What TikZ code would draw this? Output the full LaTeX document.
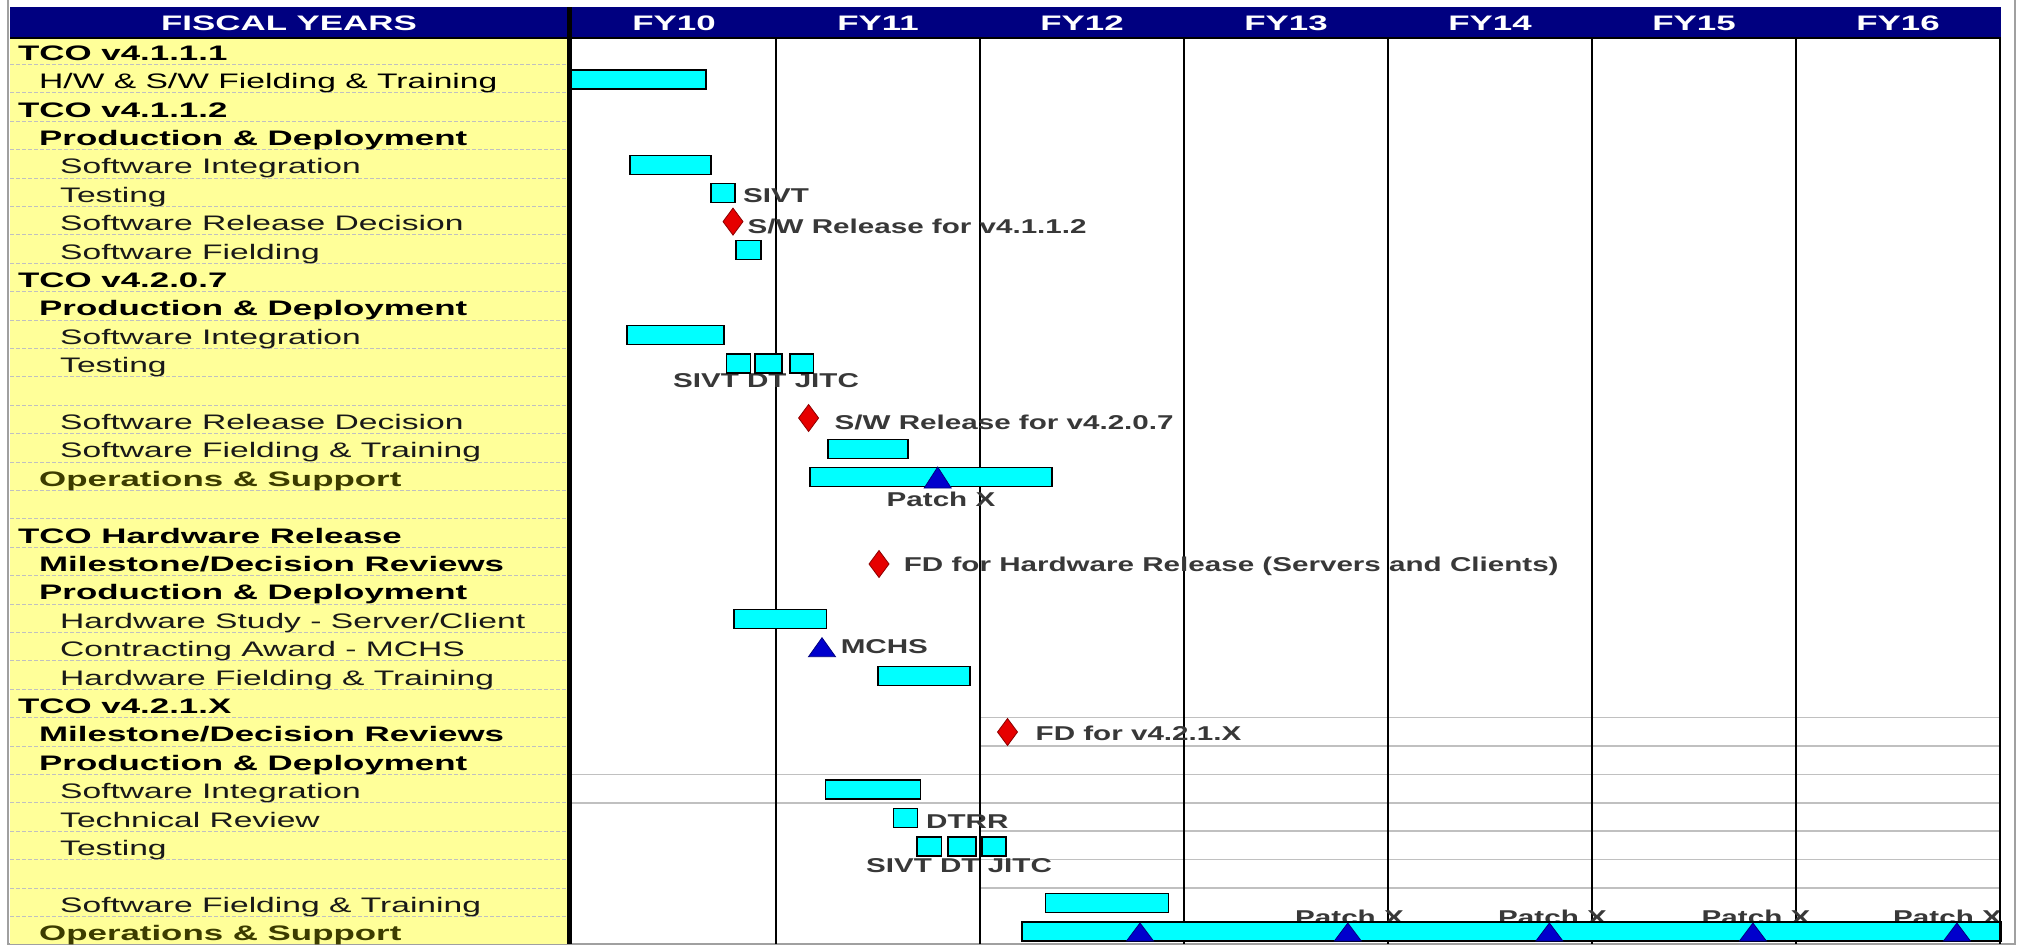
\documentclass[tikz,border=0pt]{standalone}
\usepackage{fontspec}
\setmainfont{Liberation Sans}[FakeStretch=1.6, BoldFeatures={FakeStretch=1.66}]
\newfontfamily\chartfont{Liberation Sans}[FakeStretch=1.48]
\definecolor{hdrnavy}{RGB}{0,0,128}
\definecolor{colyellow}{RGB}{255,255,153}
\definecolor{barcyan}{RGB}{0,255,255}
\definecolor{diared}{RGB}{230,0,0}
\definecolor{diaedge}{RGB}{140,0,0}
\definecolor{triblue}{RGB}{0,0,205}
\definecolor{gridgray}{RGB}{192,192,192}
\definecolor{framegray}{RGB}{160,160,160}
\definecolor{chartlbl}{RGB}{56,56,56}
\definecolor{olivetxt}{RGB}{60,60,0}
\tikzset{
  hdrtxt/.style={anchor=base, inner sep=0, text=white, font=\bfseries\fontsize{21}{21}\selectfont},
  lvlzero/.style={anchor=base west, inner sep=0, text=black, font=\bfseries\fontsize{21}{21}\selectfont},
  lvlone/.style={anchor=base west, inner sep=0, text=black, font=\bfseries\fontsize{21}{21}\selectfont},
  lvlonereg/.style={anchor=base west, inner sep=0, text=black, font=\fontsize{21}{21}\selectfont},
  lvlolive/.style={anchor=base west, inner sep=0, text=olivetxt, font=\bfseries\fontsize{21}{21}\selectfont},
  lvltwo/.style={anchor=base west, inner sep=0, text=black!90, font=\fontsize{21}{21}\selectfont},
  clbl/.style={anchor=base west, inner sep=0, text=chartlbl, font=\chartfont\bfseries\fontsize{20}{20}\selectfont},
  clblc/.style={clbl, anchor=base},
  barbox/.style={fill=barcyan, draw=black, line width=1.5pt},
  diam/.style={fill=diared, draw=diaedge, line width=0.8pt},
  trimark/.style={fill=triblue, draw=hdrnavy, line width=0.8pt},
  dashln/.style={draw=gridgray, line width=1pt, dash pattern=on 4pt off 2pt},
  gridln/.style={draw=gridgray, line width=1.6pt},
  yearln/.style={draw=black, line width=2pt},
}
\newcommand\gbar[3]{\filldraw[barbox] (#1,{36+(#3-0.5)*28.4-8.5}) rectangle (#2,{36+(#3-0.5)*28.4+10.5});}
\newcommand\gdia[2]{\filldraw[diam] (#1,{#2-13.5}) -- ({#1+10},#2) -- (#1,{#2+13.5}) -- ({#1-10},#2) -- cycle;}
\newcommand\gtri[3]{\filldraw[trimark] (#1,{#2-#3}) -- ({#1+13.5},#2) -- ({#1-13.5},#2) -- cycle;}
\begin{document}
\begin{tikzpicture}[x=1pt, y=-1pt]
\useasboundingbox (0,0) rectangle (2017,945);
\fill[white] (0,0) rectangle (2017,945);
% outer frame
\draw[framegray, line width=2pt] (8,0) -- (8,944) -- (2015,944) -- (2015,0);
% header
\fill[hdrnavy] (10,7) rectangle (2001,37);
\draw[black, line width=2pt] (10,38) -- (2001,38);
% label column
\fill[colyellow] (10,39) rectangle (567,944);
\foreach \i in {1,...,31} \draw[dashln] (10,{36+\i*28.4}) -- (566,{36+\i*28.4});
% chart gridlines
\foreach \yy in {717.6,746,831.2,859.6,888} \draw[gridln] (980,\yy) -- (2000,\yy);
\foreach \yy in {774.4,802.8} \draw[gridln] (572,\yy) -- (2000,\yy);
% year lines
\foreach \xx in {776,980,1184,1388,1592,1796,2000} \draw[yearln] (\xx,39) -- (\xx,944);
% header texts
\node[hdrtxt] (hfy) at (289,30.5) {FISCAL YEARS};
\node[hdrtxt] (h10) at (674,30.5) {FY10};
\node[hdrtxt] (h11) at (878,30.5) {FY11};
\node[hdrtxt] (h12) at (1082,30.5) {FY12};
\node[hdrtxt] (h13) at (1286,30.5) {FY13};
\node[hdrtxt] (h14) at (1490,30.5) {FY14};
\node[hdrtxt] (h15) at (1694,30.5) {FY15};
\node[hdrtxt] (h16) at (1898,30.5) {FY16};
% row labels
\node[lvlzero] (r1) at (18,60.2) {TCO v4.1.1.1};
\node[lvlonereg] (r2) at (39,88.6) {H/W \& S/W Fielding \& Training};
\node[lvlzero] (r3) at (18,117.0) {TCO v4.1.1.2};
\node[lvlone] (r4) at (39,145.4) {Production \& Deployment};
\node[lvltwo] (r5) at (60,173.8) {Software Integration};
\node[lvltwo] (r6) at (60,202.2) {Testing};
\node[lvltwo] (r7) at (60,230.6) {Software Release Decision};
\node[lvltwo] (r8) at (60,259.0) {Software Fielding};
\node[lvlzero] (r9) at (18,287.4) {TCO v4.2.0.7};
\node[lvlone] (r10) at (39,315.8) {Production \& Deployment};
\node[lvltwo] (r11) at (60,344.2) {Software Integration};
\node[lvltwo] (r12) at (60,372.6) {Testing};
\node[lvltwo] (r14) at (60,429.4) {Software Release Decision};
\node[lvltwo] (r15) at (60,457.8) {Software Fielding \& Training};
\node[lvlolive] (r16) at (39,486.2) {Operations \& Support};
\node[lvlzero] (r18) at (18,543.0) {TCO Hardware Release};
\node[lvlone] (r19) at (39,571.4) {Milestone/Decision Reviews};
\node[lvlone] (r20) at (39,599.8) {Production \& Deployment};
\node[lvltwo] (r21) at (60,628.2) {Hardware Study - Server/Client};
\node[lvltwo] (r22) at (60,656.6) {Contracting Award - MCHS};
\node[lvltwo] (r23) at (60,685.0) {Hardware Fielding \& Training};
\node[lvlzero] (r24) at (18,713.4) {TCO v4.2.1.X};
\node[lvlone] (r25) at (39,741.8) {Milestone/Decision Reviews};
\node[lvlone] (r26) at (39,770.2) {Production \& Deployment};
\node[lvltwo] (r27) at (60,798.6) {Software Integration};
\node[lvltwo] (r28) at (60,827.0) {Technical Review};
\node[lvltwo] (r29) at (60,855.4) {Testing};
\node[lvltwo] (r31) at (60,912.2) {Software Fielding \& Training};
\node[lvlolive] (r32) at (39,940.6) {Operations \& Support};
% chart labels
\node[clbl] (c6) at (743,202) {SIVT};
\node[clbl] (c7) at (747.5,233) {S/W Release for v4.1.1.2};
\node[clblc] (c13) at (766,387) {SIVT DT JITC};
\node[clbl] (c14) at (834.5,429) {S/W Release for v4.2.0.7};
\node[clblc] (c16) at (941,506) {Patch X};
\node[clbl] (c19) at (903.7,571.7) {FD for Hardware Release (Servers and Clients)};
\node[clbl] (c22) at (840.6,653) {MCHS};
\node[clbl] (c25) at (1035.5,740) {FD for v4.2.1.X};
\node[clbl] (c28) at (926,828.3) {DTRR};
\node[clblc] (c30) at (959,872.7) {SIVT DT JITC};
\node[clblc] (p1) at (1349.5,924) {Patch X};
\node[clblc] (p2) at (1552.5,924) {Patch X};
\node[clblc] (p3) at (1756,924) {Patch X};
\node[clblc] (p4) at (1947.5,924) {Patch X};
% bars
\gbar{571}{706}{2}
\gbar{630}{711}{5}
\gbar{711}{735}{6}
\gbar{736}{761}{8}
\gbar{627}{724}{11}
\gbar{726.5}{750.6}{12}
\gbar{755}{782}{12}
\gbar{790}{813.6}{12}
\gbar{828}{908}{15}
\gbar{810}{1052}{16}
\gbar{734}{826.6}{21}
\gbar{877.8}{970}{23}
\gbar{825.6}{920.7}{27}
\gbar{893.5}{917.6}{28}
\gbar{917}{941.7}{29}
\gbar{948}{976}{29}
\gbar{982}{1006}{29}
\gbar{1045.7}{1168.5}{31}
\gbar{1022}{2001}{32}
% diamonds
\gdia{733}{221.6}
\gdia{808.6}{418}
\gdia{879}{564}
\gdia{1007.5}{732}
% triangles
\gtri{937.7}{488}{21}
\gtri{822}{656.7}{19}
\foreach \xx in {1140,1347.8,1549.4,1752.9,1956.9} {\gtri{\xx}{941}{18}}
% column separator
\fill[black] (567,7) rectangle (572,944);
\draw[black, line width=2pt] (2000,38) -- (2000,944);
\end{tikzpicture}
\end{document}
